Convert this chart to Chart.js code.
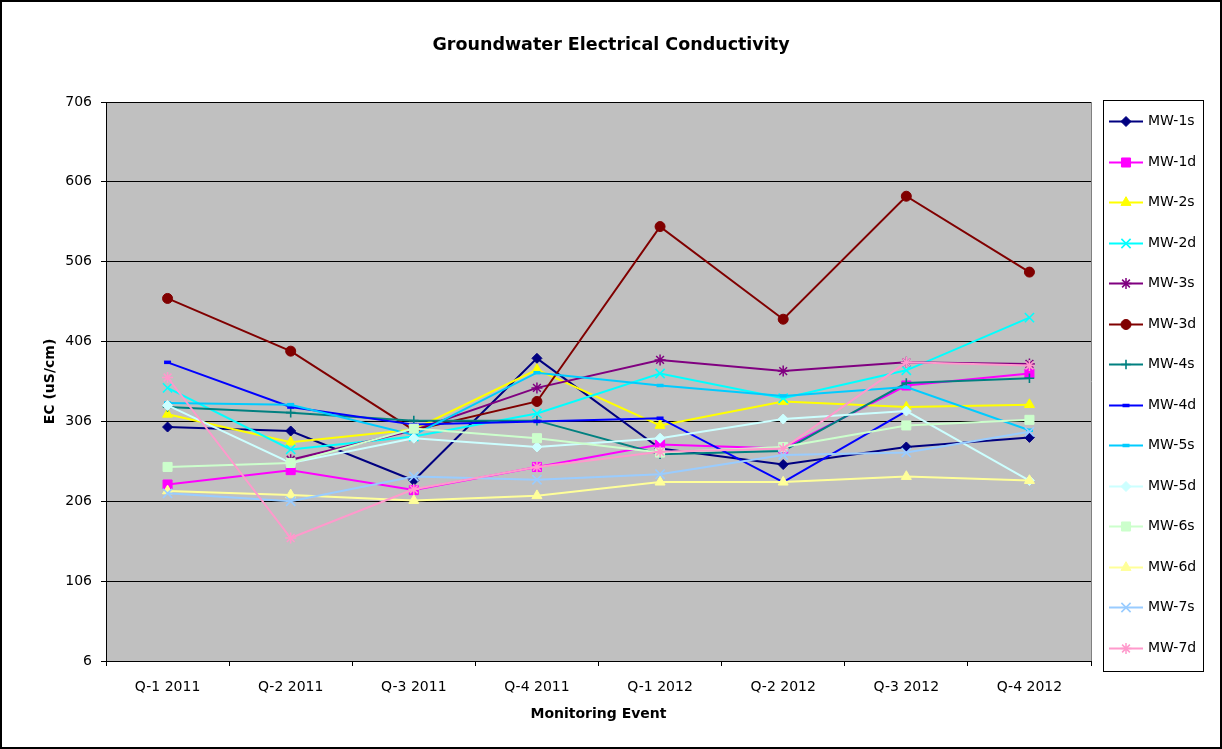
<!DOCTYPE html>
<html>
<head>
<meta charset="utf-8">
<title>Groundwater Electrical Conductivity</title>
<script src="https://cdn.jsdelivr.net/npm/chart.js@4/dist/chart.umd.min.js"></script>
<style>
  html, body { margin: 0; padding: 0; background: #ffffff; }
  #wrap { width: 1222px; height: 749px; }
  canvas { display: block; }
</style>
</head>
<body>
<div id="wrap"><canvas id="ecChart" width="1222" height="749"></canvas></div>
<script>
// Chart heading
const chartTitle = 'Groundwater Electrical Conductivity';

// Monitoring events (x axis)
const categories = ['Q-1 2011', 'Q-2 2011', 'Q-3 2011', 'Q-4 2011', 'Q-1 2012', 'Q-2 2012', 'Q-3 2012', 'Q-4 2012'];

// Y axis tick values (uS/cm)
const yTicks = [6, 106, 206, 306, 406, 506, 606, 706];

// Well names, in legend order
const seriesNames = ['MW-1s', 'MW-1d', 'MW-2s', 'MW-2d', 'MW-3s', 'MW-3d', 'MW-4s', 'MW-4d', 'MW-5s', 'MW-5d', 'MW-6s', 'MW-6d', 'MW-7s', 'MW-7d'];

// Electrical conductivity per well (uS/cm); null = no sample
const mw1s = [299, 294, 232, 385, 272, 252, 274, 286];
const mw1d = [227, 245, 220, 249, 277, 272, 351, 366];
const mw2s = [315, 280, 296, 371, 301, 331, 324, 327];
const mw2d = [348, 271, 287, 316, 366, 335, 370, 436];
const mw3s = [null, 258, 295, 348, 383, 369, 380, 378];
const mw3d = [460, 394, 295, 331, 550, 434, 588, 493];
const mw4s = [324, 317, 307, 307, 265, 269, 354, 360];
const mw4d = [380, 324, 302, 306, 310, 230, 319, null];
const mw5s = [329, 327, 289, 367, 351, 338, 349, 295];
const mw5d = [326, 254, 285, 274, 285, 309, 319, 232];
const mw6s = [249, 254, 297, 285, 267, 274, 301, 308];
const mw6d = [219, 214, 207, 213, 230, 230, 237, 232];
const mw7s = [216, 206, 237, 233, 240, 264, 267, 293];
const mw7d = [361, 160, 221, 249, 268, 272, 380, 376];

const seriesValues = [mw1s, mw1d, mw2s, mw2d, mw3s, mw3d, mw4s, mw4d, mw5s, mw5d, mw6s, mw6d, mw7s, mw7d];

// Line / marker colours
const seriesColors = ['#000080', '#FF00FF', '#FFFF00', '#00FFFF', '#800080', '#800000', '#008080', '#0000FF', '#00CCFF', '#CCFFFF', '#CCFFCC', '#FFFF99', '#99CCFF', '#FF99CC'];

// Marker shapes and sizes
const markerStyles = ['rectRot', 'rect', 'triangle', 'crossRot', 'star', 'circle', 'cross', 'line', 'line', 'rectRot', 'rect', 'triangle', 'crossRot', 'star'];
const markerRadius = { rectRot: 5, rect: 6.4, triangle: 5.8, crossRot: 6.5, star: 5.5, circle: 5, cross: 4.8, line: 3.5 };
const markerBorder = { rectRot: 1, rect: 1, triangle: 1, crossRot: 1.6, star: 1.5, circle: 1, cross: 1.6, line: 3.5 };

const FONT = "'DejaVu Sans', Verdana, sans-serif";

const datasets = seriesNames.map((name, i) => {
  const style = markerStyles[i];
  return {
    label: name,
    data: seriesValues[i],
    borderColor: seriesColors[i],
    backgroundColor: seriesColors[i],
    borderWidth: 2,
    pointStyle: style,
    pointRadius: markerRadius[style],
    pointHoverRadius: markerRadius[style],
    pointBorderWidth: markerBorder[style],
    pointBackgroundColor: seriesColors[i],
    pointBorderColor: seriesColors[i],
    tension: 0,
    spanGaps: false,
    fill: false,
    // later wells are painted over earlier ones
    order: seriesNames.length - i
  };
});

// Grey plot background, heading, outer frame and boxed legend
const frameAndLegend = {
  id: 'frameAndLegend',
  beforeDraw(chart) {
    const { ctx, chartArea: a } = chart;
    ctx.save();
    ctx.fillStyle = '#ffffff';
    ctx.fillRect(0, 0, chart.width, chart.height);
    ctx.fillStyle = '#C0C0C0';
    ctx.fillRect(a.left, a.top, a.right - a.left, a.bottom - a.top);
    ctx.restore();
  },
  afterDraw(chart) {
    const { ctx, chartArea: a } = chart;
    ctx.save();

    // heading, centred on the whole canvas
    ctx.fillStyle = '#000000';
    ctx.font = 'bold 17.5px ' + FONT;
    ctx.textAlign = 'center';
    ctx.textBaseline = 'middle';
    ctx.fillText(chartTitle, chart.width / 2, 45);

    // plot area right edge
    ctx.strokeStyle = '#808080';
    ctx.lineWidth = 1;
    ctx.beginPath();
    ctx.moveTo(Math.round(a.right) + 0.5, a.top);
    ctx.lineTo(Math.round(a.right) + 0.5, a.bottom);
    ctx.stroke();

    // outer chart border
    ctx.strokeStyle = '#000000';
    ctx.lineWidth = 2;
    ctx.strokeRect(1, 1, chart.width - 2, chart.height - 2);

    // legend box
    const lx = 1103, ly = 100, lw = 100, lh = 571;
    ctx.fillStyle = '#ffffff';
    ctx.fillRect(lx, ly, lw, lh);
    ctx.lineWidth = 1;
    ctx.strokeStyle = '#000000';
    ctx.strokeRect(lx + 0.5, ly + 0.5, lw, lh);

    ctx.font = '14px ' + FONT;
    ctx.textBaseline = 'middle';
    ctx.textAlign = 'left';
    const step = 40.5;
    chart.data.datasets.forEach((ds, i) => {
      const y = Math.round(ly + 21 + i * step) + 0.5;
      ctx.strokeStyle = ds.borderColor;
      ctx.lineWidth = 2;
      ctx.beginPath();
      ctx.moveTo(lx + 6, y);
      ctx.lineTo(lx + 40, y);
      ctx.stroke();
      const opts = {
        pointStyle: ds.pointStyle,
        radius: ds.pointRadius,
        borderWidth: ds.pointBorderWidth,
        rotation: 0
      };
      ctx.fillStyle = ds.pointBackgroundColor;
      ctx.strokeStyle = ds.pointBorderColor;
      ctx.lineWidth = ds.pointBorderWidth;
      Chart.helpers.drawPoint(ctx, opts, lx + 23, y);
      ctx.fillStyle = '#000000';
      ctx.fillText(ds.label, lx + 45, y);
    });
    ctx.restore();
  }
};

new Chart(document.getElementById('ecChart'), {
  type: 'line',
  data: { labels: categories, datasets },
  plugins: [frameAndLegend],
  options: {
    responsive: false,
    animation: false,
    devicePixelRatio: 1,
    layout: { padding: { left: 0, right: 131, top: 102, bottom: 0 } },
    plugins: {
      legend: { display: false },
      tooltip: { enabled: false },
      title: { display: false }
    },
    scales: {
      x: {
        type: 'category',
        offset: true,
        afterFit(scale) { scale.height = 88; },
        grid: {
          display: true,
          offset: true,
          drawOnChartArea: false,
          drawTicks: true,
          tickLength: 5,
          color: '#000000',
          lineWidth: 1
        },
        border: { display: true, color: '#000000', width: 1 },
        ticks: {
          color: '#000000',
          font: { family: FONT, size: 14 },
          padding: 12.6,
          maxRotation: 0,
          autoSkip: false
        },
        title: {
          display: true,
          text: 'Monitoring Event',
          color: '#000000',
          font: { family: FONT, size: 14, weight: 'bold' },
          padding: { top: 0, bottom: 26 }
        }
      },
      y: {
        type: 'linear',
        min: yTicks[0],
        max: yTicks[yTicks.length - 1],
        afterFit(scale) { scale.width = 106; },
        afterBuildTicks(scale) { scale.ticks = yTicks.map(v => ({ value: v })); },
        grid: {
          display: true,
          drawOnChartArea: true,
          drawTicks: true,
          tickLength: 5,
          color: '#000000',
          lineWidth: 1
        },
        border: { display: true, color: '#000000', width: 1 },
        ticks: {
          color: '#000000',
          font: { family: FONT, size: 14 },
          padding: 9
        },
        title: {
          display: true,
          text: 'EC (uS/cm)',
          color: '#000000',
          font: { family: FONT, size: 14, weight: 'bold' },
          padding: { top: 41.6, bottom: 0 }
        }
      }
    }
  }
});
</script>
</body>
</html>
